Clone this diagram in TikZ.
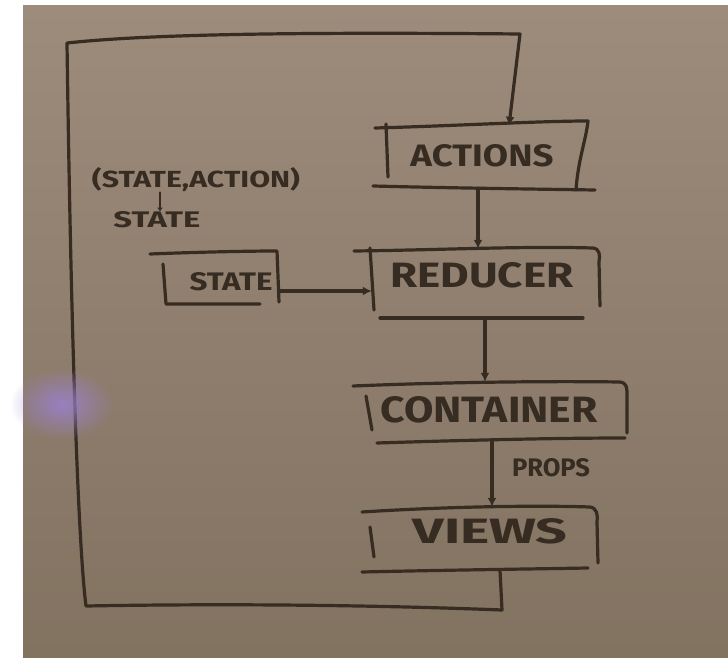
\documentclass[tikz,border=0pt]{standalone}
\usepackage{fontspec}
\usepackage{graphicx}
\setsansfont{Fira Sans}
\usetikzlibrary{arrows.meta,fadings}
\definecolor{ink}{HTML}{372C22}
\definecolor{bgtop}{HTML}{9D8B7C}
\definecolor{bgmid}{HTML}{928571}
\definecolor{bgbot}{HTML}{827260}
\definecolor{glow}{HTML}{9A80CC}
\newcommand{\hw}[3]{\resizebox{#1pt}{#2pt}{\sffamily\bfseries #3}}
\tikzfading[name=softglow, inner color=transparent!10, outer color=transparent!100]
\begin{document}
\begin{tikzpicture}[x=1pt,y=-1pt,
  ink/.style={draw=ink,line width=3.2pt,line cap=round,line join=round},
  conn/.style={ink,-{Latex[length=9pt,width=9pt]}},
  area/.style={inner sep=0pt,draw=none},
  txt/.style={inner sep=0pt,text=ink}]
\useasboundingbox (0,0) rectangle (728,658);
\fill[white] (0,0) rectangle (728,658);
\shade[top color=bgtop,middle color=bgmid,bottom color=bgbot] (23,6) rectangle (728,658);

% box areas
\node[area,minimum width=222pt,minimum height=62pt] (actions) at (484,157) {};
\node[area,minimum width=228pt,minimum height=69pt] (reducer) at (486,283.5) {};
\node[area,minimum width=130pt,minimum height=53pt] (state) at (215,278.5) {};
\node[area,minimum width=274pt,minimum height=58pt] (container) at (490,411) {};
\node[area,minimum width=236pt,minimum height=63pt] (views) at (480,538.5) {};

% texts
\node[txt] (actionsT) at (482,156) {\hw{143}{22}{ACTIONS}};
\node[txt] (reducerT) at (482,275) {\hw{183}{25}{REDUCER}};
\node[txt] (stateT) at (231,282) {\hw{83}{18}{STATE}};
\node[txt] (containerT) at (489,410) {\hw{217}{26}{CONTAINER}};
\node[txt] (viewsT) at (490,531) {\hw{155}{25}{VIEWS}};
\node[txt] (props) at (551,468) {\hw{78}{18}{PROPS}};
\node[txt] (lbl1) at (196,180) {\hw{208}{20}{(STATE,ACTION)}};
\node[txt] (lbl2) at (157,220) {\hw{87}{16}{STATE}};

% ACTIONS box
\draw[ink] (375,128) .. controls (450,126) and (540,121) .. (588,121) .. controls (586,140) and (578,160) .. (576,190);
\draw[ink] (386,124) -- (388,177);
\draw[ink] (373,186) .. controls (450,188) and (530,189) .. (595,190);
% REDUCER box
\draw[ink] (354,251) .. controls (440,250) and (520,246) .. (593,248) .. controls (600,249) and (600,255) .. (599,262) -- (600,306);
\draw[ink] (370,248) -- (374,310);
\draw[ink] (380,318) -- (583,318);
% STATE box
\draw[ink] (150,254) .. controls (200,252) and (250,251) .. (277,251) -- (279,302);
\draw[ink] (163,264) -- (166,304) -- (260,304);
% CONTAINER box
\draw[ink] (353,386) .. controls (450,382) and (550,381) .. (620,382) .. controls (627,383) and (627,388) .. (627,395) -- (627,433);
\draw[ink] (366,396) -- (372,430);
\draw[ink] (377,443) .. controls (470,440) and (560,438) .. (625,438);
% VIEWS box
\draw[ink] (362,512) .. controls (440,507) and (530,505) .. (590,507) .. controls (597,508) and (598,515) .. (597,522) -- (598,563);
\draw[ink] (370,527) -- (374,557);
\draw[ink] (362,572) .. controls (450,570) and (530,569) .. (588,568);

% connectors
\draw[conn] ([xshift=-6pt]actions.south) -- ([xshift=-6pt]actions.south |- reducer.north);
\draw[conn] ([xshift=-1pt]reducer.south) -- ([xshift=-1pt]reducer.south |- container.north);
\draw[conn] ([xshift=2pt]container.south) -- ([xshift=2pt]container.south |- views.north);
\draw[conn] ([yshift=-12.5pt]state.east) -- ([yshift=-12.5pt]state.east -| reducer.west);
\draw[conn] ([xshift=20pt]views.south) -- (502,610)
  .. controls (400,606) and (250,603) .. (86,606)
  .. controls (80,560) and (72,400) .. (67,43)
  .. controls (150,34) and (300,32) .. (520,34)
  -- ([xshift=25pt]actions.north);
\draw[ink,line width=2pt,-{Latex[length=4pt,width=6pt]}] ([xshift=-36pt]lbl1.south) -- ([xshift=-36pt]lbl1.south |- lbl2.north);

% glare
\fill[glow,path fading=softglow] (62,404) ellipse [x radius=52pt, y radius=36pt];
\end{tikzpicture}
\end{document}
